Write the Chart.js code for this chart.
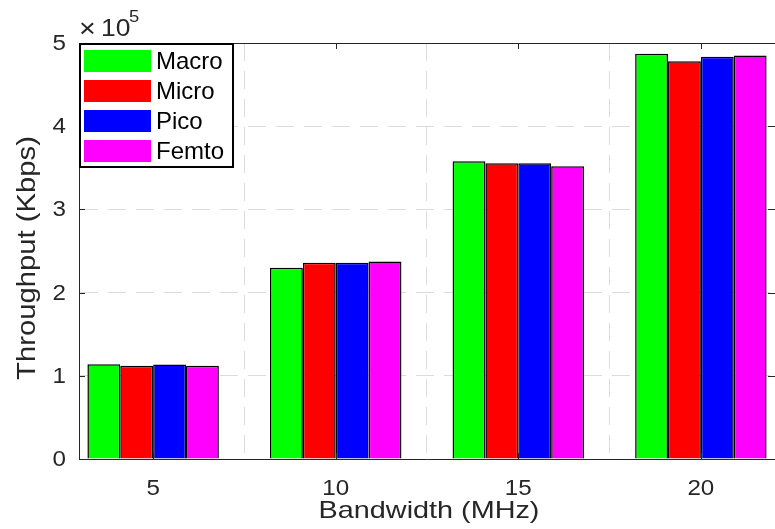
<!DOCTYPE html>
<html>
<head>
<meta charset="utf-8">
<script src="https://cdn.jsdelivr.net/npm/chart.js@4"></script>
<style>
  html, body { margin: 0; padding: 0; background: #fff; overflow: hidden; }
  #wrap { width: 778px; height: 529px; }
</style>
</head>
<body>
<div id="wrap"><canvas id="tputChart" width="778" height="529"></canvas></div>
<script>
// Throughput vs bandwidth for each cell tier (values in units of 1e5 Kbps)
const bandwidths = [5, 10, 15, 20];
const macro = [1.14, 2.30, 3.58, 4.87];
const micro = [1.12, 2.36, 3.555, 4.78];
const pico  = [1.135, 2.36, 3.555, 4.835];
const femto = [1.12, 2.375, 3.52, 4.85];
const yTicks = [0, 1, 2, 3, 4, 5];

const tiers = [
  { name: "Macro", values: macro, color: "#00ff00" },
  { name: "Micro", values: micro, color: "#ff0000" },
  { name: "Pico",  values: pico,  color: "#0000ff" },
  { name: "Femto", values: femto, color: "#ff00ff" }
];

const axisColor = "#262626";
const fontFamily = "'Liberation Sans', Arial, sans-serif";

// text drawn with a horizontal stretch (MATLAB-like wide glyphs)
function wideText(c, str, x, y, size, sx, align, rot) {
  c.save();
  c.translate(x, y);
  if (rot) c.rotate(rot);
  c.scale(sx, 1);
  c.font = size + "px " + fontFamily;
  c.textAlign = align;
  c.textBaseline = "middle";
  c.fillText(str, 0, 0);
  c.restore();
}

// tick labels, inward tick marks, frame, exponent label and boxed legend
const matlabDecor = {
  id: "matlabDecor",
  afterDraw(chart) {
    const c = chart.ctx;
    const a = chart.chartArea;
    const xs = chart.scales.x, ys = chart.scales.y;
    c.save();
    c.strokeStyle = axisColor;
    c.lineWidth = 1;
    c.setLineDash([]);
    c.beginPath();
    c.moveTo(a.left, a.top + 0.5);
    c.lineTo(a.right, a.top + 0.5);
    c.moveTo(a.right + 0.5, a.top);
    c.lineTo(a.right + 0.5, a.bottom);
    yTicks.forEach(v => {
      const py = Math.round(ys.getPixelForValue(v)) + 0.5;
      c.moveTo(a.left, py); c.lineTo(a.left + 6, py);
      c.moveTo(a.right, py); c.lineTo(a.right - 7, py);
    });
    bandwidths.forEach(v => {
      const px = Math.round(xs.getPixelForValue(v)) + 0.5;
      c.moveTo(px, a.bottom); c.lineTo(px, a.bottom - 6);
      c.moveTo(px, a.top); c.lineTo(px, a.top + 6);
    });
    c.stroke();

    c.fillStyle = axisColor;
    // tick labels
    yTicks.forEach(v => {
      wideText(c, String(v), a.left - 13, ys.getPixelForValue(v) + 1, 22, 1.1, "right");
    });
    bandwidths.forEach(v => {
      wideText(c, String(v), xs.getPixelForValue(v), 489, 22, 1.1, "center");
    });
    // axis titles
    wideText(c, "Bandwidth (MHz)", (a.left + a.right) / 2 + 2, 511, 24, 1.2, "center");
    wideText(c, "Throughput (Kbps)", 28, 258, 25, 1.17, "center", -Math.PI / 2);

    // x10^5 multiplier
    wideText(c, "\u00d7", 79, 30, 25, 1.15, "left");
    wideText(c, "10", 101, 30, 23, 1.15, "left");
    wideText(c, "5", 129, 18, 16, 1.15, "left");

    // legend
    const lx = a.left, ly = a.top, lw = 155, lh = 125;
    c.fillStyle = "#fff";
    c.fillRect(lx, ly, lw, lh);
    c.strokeStyle = "#000";
    c.lineWidth = 2;
    c.strokeRect(lx + 1, ly + 1, lw - 2, lh - 2);
    tiers.forEach((t, i) => {
      const ry = ly + 7 + i * 30;
      c.fillStyle = t.color;
      c.fillRect(lx + 5, ry, 67, 22);
      c.fillStyle = "#000";
      wideText(c, t.name, lx + 77, ry + 12, 24, 1.0, "left");
    });
    c.restore();
  }
};

const ctx = document.getElementById("tputChart").getContext("2d");
const tputChart = new Chart(ctx, {
  type: "bar",
  data: {
    datasets: tiers.map(t => ({
      label: t.name,
      data: bandwidths.map((b, i) => ({ x: b, y: t.values[i] })),
      backgroundColor: t.color,
      borderColor: "#000",
      borderWidth: 1.5,
      categoryPercentage: 0.72,
      barPercentage: 1.0
    }))
  },
  options: {
    responsive: false,
    animation: false,
    layout: { padding: { top: 43, right: 3, left: 0, bottom: 0 } },
    plugins: {
      legend: { display: false },
      tooltip: { enabled: false }
    },
    scales: {
      x: {
        type: "linear",
        offset: false,
        min: 2.97,
        max: 22.03,
        afterBuildTicks: s => { s.ticks = bandwidths.map(v => ({ value: v })); },
        afterFit: s => { s.height = 70; },
        grid: { color: "#dcdcdc", drawTicks: false },
        border: { color: axisColor, width: 1, dash: [18, 10] },
        ticks: { display: false }
      },
      y: {
        min: 0,
        max: 5,
        afterBuildTicks: s => { s.ticks = yTicks.map(v => ({ value: v })); },
        afterFit: s => { s.width = 79; },
        grid: { color: "#dcdcdc", drawTicks: false },
        border: { color: axisColor, width: 1, dash: [18, 10] },
        ticks: { display: false }
      }
    }
  },
  plugins: [matlabDecor]
});
</script>
</body>
</html>
